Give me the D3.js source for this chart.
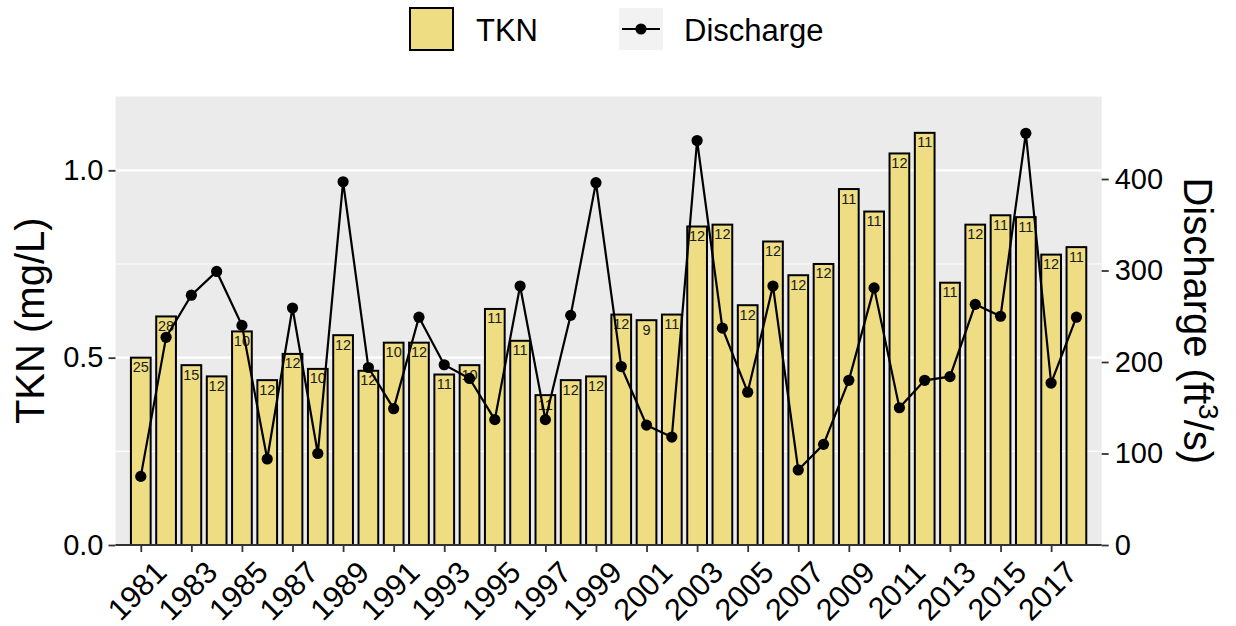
<!DOCTYPE html>
<html>
<head>
<meta charset="utf-8">
<script src="https://cdn.jsdelivr.net/npm/d3@7"></script>
<style>
  body { margin: 0; background: #fff; }
  text { font-family: "Liberation Sans", Arial, sans-serif; }
</style>
</head>
<body>
<script>
// ==========================================
// 1. DATA
// ==========================================

const years = d3.range(1981, 2019);

// TKN annual mean (mg/L)
const tkn = [0.50, 0.61, 0.48, 0.45, 0.57, 0.44, 0.51, 0.47, 0.56, 0.465,
             0.54, 0.54, 0.455, 0.48, 0.63, 0.545, 0.40, 0.44, 0.45, 0.615,
             0.60, 0.615, 0.85, 0.855, 0.64, 0.81, 0.72, 0.75, 0.95, 0.89,
             1.045, 1.10, 0.70, 0.855, 0.88, 0.875, 0.775, 0.795];

// number of samples per year
const counts = [25, 28, 15, 12, 10, 12, 12, 10, 12, 12,
                10, 12, 11, 10, 11, 11, 11, 12, 12, 12,
                9, 11, 12, 12, 12, 12, 12, 12, 11, 11,
                12, 11, 11, 12, 11, 11, 12, 11];

// discharge (ft3/s)
const discharge = [75, 227, 273, 299, 240, 94, 259, 100, 397, 194,
                   149, 249, 197, 182, 137, 283, 137, 251, 396, 195,
                   131, 118, 442, 237, 167, 283, 82, 110, 180, 281,
                   150, 180, 184, 263, 250, 450, 177, 249];

const tknTicks = [0, 0.5, 1.0];
const tknMinor = [0.25, 0.75];
const qTicks = [0, 100, 200, 300, 400];
const yearTicks = d3.range(1981, 2018, 2);

// ==========================================
// 2. SETUP
// ==========================================

const W = 1236, H = 626;
const panel = {left: 115.5, right: 1101.7, top: 96.5, bottom: 545};
const barFill = "#EEDD82";
const tickFont = 29;

const svg = d3.select("body").append("svg")
    .attr("width", W)
    .attr("height", H);

const x = d3.scaleLinear().domain([1980, 2019]).range([panel.left, panel.right]);
const y = d3.scaleLinear().domain([0, 1.197]).range([panel.bottom, panel.top]);
const y2 = d3.scaleLinear().domain([0, 1.197 * 409.5]).range([panel.bottom, panel.top]);
const barW = x(1980.78) - x(1980);

const data = years.map((yr, i) => ({year: yr, tkn: tkn[i], n: counts[i], q: discharge[i]}));

// panel background
svg.append("rect")
    .attr("x", panel.left).attr("y", panel.top)
    .attr("width", panel.right - panel.left)
    .attr("height", panel.bottom - panel.top)
    .attr("fill", "#EBEBEB");

// grid lines (minor then major)
svg.append("g").selectAll("line").data(tknMinor).join("line")
    .attr("x1", panel.left).attr("x2", panel.right)
    .attr("y1", d => y(d)).attr("y2", d => y(d))
    .attr("stroke", "#fff").attr("stroke-width", 1.1);

svg.append("g").selectAll("line").data(tknTicks.filter(d => d > 0)).join("line")
    .attr("x1", panel.left).attr("x2", panel.right)
    .attr("y1", d => y(d)).attr("y2", d => y(d))
    .attr("stroke", "#fff").attr("stroke-width", 2.2);

// ==========================================
// 3. BARS, LABELS, LINE
// ==========================================

svg.append("g").selectAll("rect").data(data).join("rect")
    .attr("x", d => x(d.year) - barW / 2)
    .attr("y", d => y(d.tkn))
    .attr("width", barW)
    .attr("height", d => y(0) - y(d.tkn))
    .attr("fill", barFill)
    .attr("stroke", "#000")
    .attr("stroke-width", 2);

svg.append("g").selectAll("text").data(data).join("text")
    .attr("x", d => x(d.year))
    .attr("y", d => y(d.tkn) + 14.5)
    .attr("text-anchor", "middle")
    .attr("font-size", 14.5)
    .attr("fill", "#1a1a1a")
    .text(d => d.n);

const line = d3.line().x(d => x(d.year)).y(d => y2(d.q));

svg.append("path")
    .datum(data)
    .attr("d", line)
    .attr("fill", "none")
    .attr("stroke", "#000")
    .attr("stroke-width", 2.2);

svg.append("g").selectAll("circle").data(data).join("circle")
    .attr("cx", d => x(d.year))
    .attr("cy", d => y2(d.q))
    .attr("r", 5.6)
    .attr("fill", "#000");

// ==========================================
// 4. AXES
// ==========================================

// bottom axis line
svg.append("line")
    .attr("x1", panel.left).attr("x2", panel.right)
    .attr("y1", panel.bottom).attr("y2", panel.bottom)
    .attr("stroke", "#333").attr("stroke-width", 1.8);

const leftAxis = svg.append("g")
    .attr("transform", `translate(${panel.left},0)`)
    .call(d3.axisLeft(y).tickValues(tknTicks).tickFormat(d3.format(".1f")).tickSize(7).tickPadding(5));

const rightAxis = svg.append("g")
    .attr("transform", `translate(${panel.right},0)`)
    .call(d3.axisRight(y2).tickValues(qTicks).tickSize(7).tickPadding(6));

const bottomAxis = svg.append("g")
    .attr("transform", `translate(0,${panel.bottom})`)
    .call(d3.axisBottom(x).tickValues(yearTicks).tickFormat(d3.format("d")).tickSize(7));

[leftAxis, rightAxis, bottomAxis].forEach(g => {
    g.select(".domain").remove();
    g.selectAll(".tick line").attr("stroke", "#333").attr("stroke-width", 1.8);
    g.selectAll(".tick text")
        .attr("fill", "#000")
        .attr("font-size", tickFont)
        .attr("font-family", "Liberation Sans, Arial, sans-serif");
});

// rotated year labels
bottomAxis.selectAll(".tick text")
    .attr("font-size", 30.5)
    .attr("text-anchor", "end")
    .attr("y", 0)
    .attr("dy", "0.71em")
    .attr("transform", "translate(12,14) rotate(-45)");

// axis titles
svg.append("text")
    .attr("transform", `translate(44,${(panel.top + panel.bottom) / 2}) rotate(-90)`)
    .attr("text-anchor", "middle")
    .attr("font-size", 40)
    .text("TKN (mg/L)");

const rTitle = svg.append("text")
    .attr("transform", `translate(1184,${(panel.top + panel.bottom) / 2}) rotate(90)`)
    .attr("text-anchor", "middle")
    .attr("font-size", 40);
rTitle.append("tspan").text("Discharge (ft");
rTitle.append("tspan").attr("font-size", 28).attr("dy", -15).text("3");
rTitle.append("tspan").attr("dy", 15).text("/s)");

// ==========================================
// 5. LEGEND
// ==========================================

const legend = svg.append("g");

legend.append("rect")
    .attr("x", 410).attr("y", 8).attr("width", 43).attr("height", 42)
    .attr("fill", barFill).attr("stroke", "#000").attr("stroke-width", 2);

legend.append("text")
    .attr("x", 476).attr("y", 41)
    .attr("font-size", 31)
    .text("TKN");

legend.append("rect")
    .attr("x", 619).attr("y", 8).attr("width", 44).attr("height", 42)
    .attr("fill", "#F2F2F2");

legend.append("line")
    .attr("x1", 622).attr("x2", 660).attr("y1", 29).attr("y2", 29)
    .attr("stroke", "#000").attr("stroke-width", 2.2);

legend.append("circle")
    .attr("cx", 641).attr("cy", 29).attr("r", 5.6).attr("fill", "#000");

legend.append("text")
    .attr("x", 684).attr("y", 41)
    .attr("font-size", 31)
    .text("Discharge");
</script>
</body>
</html>
